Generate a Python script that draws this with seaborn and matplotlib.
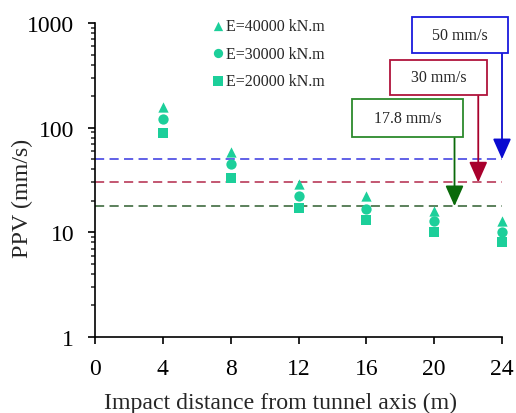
import numpy as np
import pandas as pd
import matplotlib
matplotlib.use("Agg")
import matplotlib.pyplot as plt
from matplotlib.patches import Rectangle
from matplotlib.ticker import FixedLocator, LogLocator, NullFormatter, FixedFormatter
import seaborn as sns

# Measured peak particle velocities versus distance from the tunnel axis
distance = [4, 8, 12, 16, 20, 24]
ppv_40000 = [157, 59, 29, 22, 16, 12.8]
ppv_30000 = [121, 45, 22, 16.7, 12.8, 10]
ppv_20000 = [89, 33, 17, 13.1, 10, 8.1]
series_labels = ["E=40000 kN.m", "E=30000 kN.m", "E=20000 kN.m"]

# Allowable vibration limits (mm/s)
limit_values = [50, 30, 17.8]
limit_labels = ["50 mm/s", "30 mm/s", "17.8 mm/s"]
limit_arrow_x = [24, 22.6, 21.2]

x_ticks = [0, 4, 8, 12, 16, 20, 24]
y_ticks = [1, 10, 100, 1000]
y_tick_labels = ["1", "10", "100", "1000"]

sns.set_style("ticks")
plt.rcParams["font.family"] = ["Liberation Serif", "DejaVu Serif"]
plt.rcParams["mathtext.fontset"] = "stix"

fig = plt.figure(figsize=(5.16, 4.14), dpi=100)
ax = fig.add_axes([95 / 516, 1 - 338 / 414, 407 / 516, 314 / 414])

marker_color = "#1ccf9a"
df = pd.DataFrame({
    "distance": distance * 3,
    "ppv": ppv_40000 + ppv_30000 + ppv_20000,
    "series": sum([[lab] * len(distance) for lab in series_labels], []),
})
markers = {series_labels[0]: "^", series_labels[1]: "o", series_labels[2]: "s"}
for lab in series_labels:
    sub = df[df["series"] == lab]
    sns.scatterplot(data=sub, x="distance", y="ppv", marker=markers[lab],
                    color=marker_color, s=55, linewidth=0, label=lab, ax=ax,
                    legend=False, zorder=3, clip_on=False)

# Limit lines
line_colors = ["#3535e0", "#b3284a", "#2f5e2f"]
box_edge = ["#1a1add", "#b0143c", "#2c8a2c"]
arrow_colors = ["#0a0ad0", "#a8002c", "#0a6a0a"]
for val, c in zip(limit_values, line_colors):
    ax.plot([0, 24], [val, val], linestyle=(0, (6, 3.5)), color=c, lw=1.1, zorder=2)

# Labelled boxes with arrows pointing to each limit
boxes = [
    (0.779, 0.904, 1.015, 1.019),
    (0.725, 0.771, 0.963, 0.882),
    (0.631, 0.637, 0.904, 0.758),
]
for (x0, y0, x1, y1), lab, ec, ac, ax_x, val in zip(boxes, limit_labels, box_edge,
                                                   arrow_colors, limit_arrow_x, limit_values):
    ax.add_patch(Rectangle((x0, y0), x1 - x0, y1 - y0, transform=ax.transAxes,
                           facecolor="white", edgecolor=ec, lw=1.3, clip_on=False, zorder=5))
    ax.text((x0 + x1) / 2, (y0 + y1) / 2, lab, transform=ax.transAxes, ha="center",
            va="center", fontsize=11.5, zorder=6)
    ax.annotate("", xy=(ax_x, val), xycoords="data",
                xytext=(ax_x, y0), textcoords=("data", "axes fraction"),
                arrowprops=dict(arrowstyle="-|>,head_length=0.9,head_width=0.4",
                                color=ac, lw=1.3, shrinkA=0, shrinkB=0,
                                mutation_scale=14),
                annotation_clip=False, zorder=4)

ax.set_yscale("log")
ax.set_xlim(0, 24)
ax.set_ylim(1, 1000)
ax.xaxis.set_major_locator(FixedLocator(x_ticks))
ax.yaxis.set_major_locator(FixedLocator(y_ticks))
ax.yaxis.set_major_formatter(FixedFormatter(y_tick_labels))
ax.yaxis.set_minor_locator(LogLocator(base=10, subs=np.arange(2, 10)))
ax.yaxis.set_minor_formatter(NullFormatter())

for side in ["top", "right"]:
    ax.spines[side].set_visible(False)
for side in ["left", "bottom"]:
    ax.spines[side].set_linewidth(1.2)
    ax.spines[side].set_color("black")

ax.tick_params(axis="both", which="major", direction="out", length=5, width=1.2,
               labelsize=17, colors="black")
ax.tick_params(axis="x", which="major", pad=10)
ax.tick_params(axis="y", which="major", pad=10)
ax.tick_params(axis="y", which="minor", direction="out", length=3, width=1.1)

ax.set_xlabel("Impact distance from tunnel axis (m)", fontsize=17.2)
ax.set_ylabel("PPV (mm/s)", fontsize=17.3)
ax.xaxis.set_label_coords(0.455, -0.174)
ax.yaxis.set_label_coords(-0.152, 0.443)

ax.legend(loc="upper left", bbox_to_anchor=(0.272, 1.04), frameon=False,
          fontsize=11.5, handlelength=0.6, handletextpad=0.15, labelspacing=0.7,
          borderpad=0, markerscale=0.9)

fig.savefig("out.png", dpi=100)
